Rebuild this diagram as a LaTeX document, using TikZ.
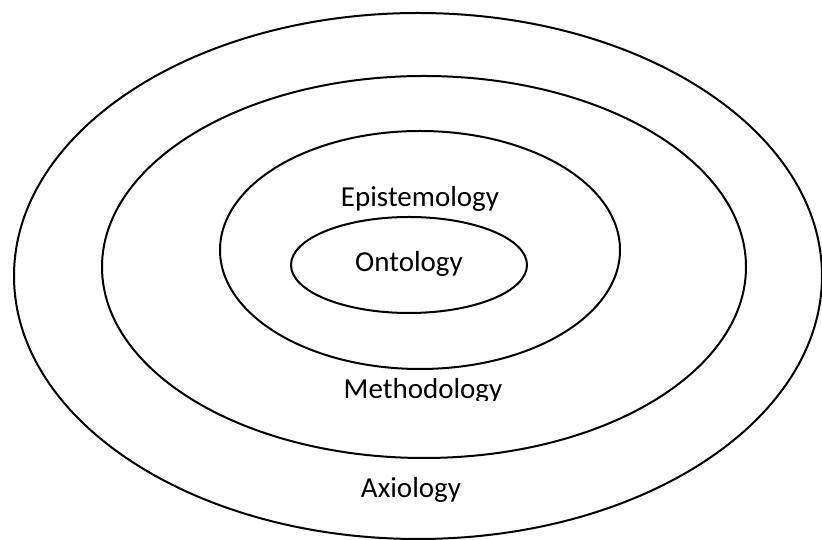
\documentclass[tikz,border=0pt]{standalone}
\usepackage{fontspec}
\setmainfont{Carlito}
\begin{document}
\begin{tikzpicture}[x=1pt,y=1pt,
  ring/.style={line width=2pt, draw=black},
  label/.style={anchor=base, inner sep=0pt, font=\fontsize{29}{34}\selectfont}]
\useasboundingbox (0,0) rectangle (822,540);
\clip (0,0) rectangle (822,540);
% concentric layers, outermost first
\draw[ring] (418,264) ellipse [x radius=404, y radius=263];
\draw[ring] (424,273) ellipse [x radius=322, y radius=191];
\draw[ring] (420,290) ellipse [x radius=200, y radius=119];
\draw[ring] (409,275) ellipse [x radius=118, y radius=48];
% layer names
\node[label] (onto) at (409,268) {Ontology};
\node[label] (epis) at (420,333) {Epistemology};
\begin{scope}
  \clip (300,139) rectangle (540,200);
  \node[label] (meth) at (423,141) {Methodology};
\end{scope}
\node[label] (axio) at (411,42) {Axiology};
\end{tikzpicture}
\end{document}
